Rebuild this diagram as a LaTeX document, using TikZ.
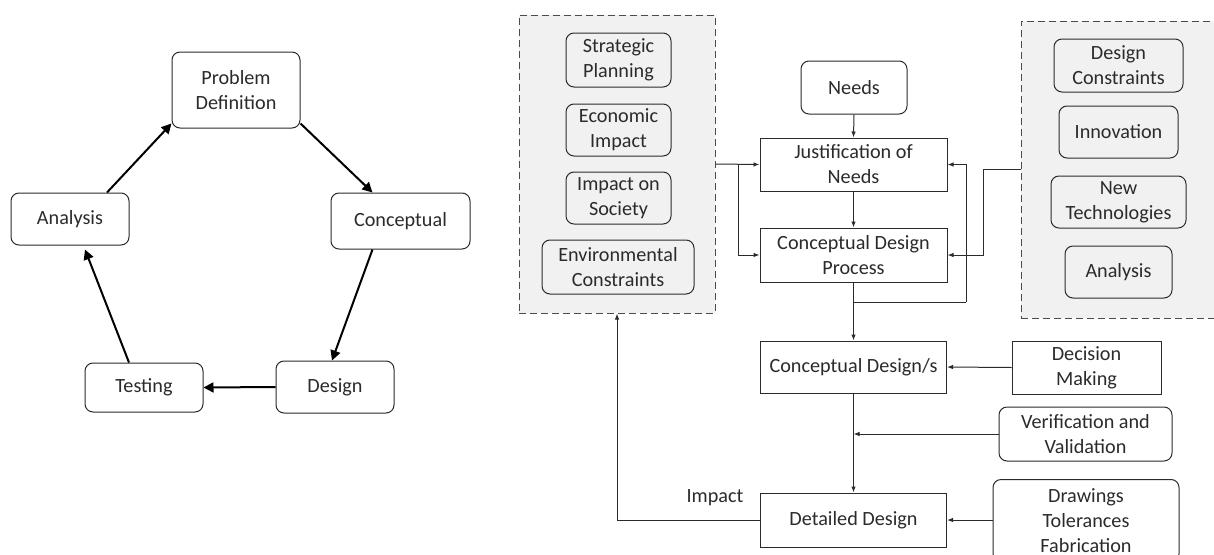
\documentclass[tikz,border=0pt]{standalone}
\usepackage{fontspec}
\setmainfont{Carlito}
\usetikzlibrary{arrows.meta,calc}
\definecolor{ink}{HTML}{2B2B2B}
\definecolor{panel}{HTML}{F1F1F1}
\begin{document}
\begin{tikzpicture}[x=1pt,y=-1pt,
  every node/.style={font=\fontsize{20.2}{25}\selectfont, text=ink, align=center, inner sep=0pt},
  cyc/.style={draw=ink, line width=1pt, rounded corners=8pt},
  rbx/.style={draw=ink, line width=1pt, rounded corners=8pt},
  sbx/.style={draw=ink, line width=1pt},
  panelbox/.style={draw=ink!85, dashed, dash pattern=on 7pt off 4pt, line width=1pt, fill=panel},
  bigarr/.style={draw=black, line width=2pt, -{Triangle[length=10pt,width=10pt]}},
  arr/.style={draw=ink, line width=1pt, -{Latex[length=6pt,width=4.5pt]}},
  ln/.style={draw=ink, line width=1pt}
]
\useasboundingbox (0,0) rectangle (1214,554);
\clip (0,0) rectangle (1214,554);
\fill[white] (0,0) rectangle (1214,554);

% ---------- left cycle ----------
\node[cyc, minimum width=128pt, minimum height=76pt] (pd) at (236,90) {Problem\\Definition};
\node[cyc, minimum width=139pt, minimum height=56pt] (conc) at (400.5,221) {Conceptual};
\node[cyc, minimum width=118pt, minimum height=52pt] (ana) at (70,219) {Analysis};
\node[cyc, minimum width=118pt, minimum height=49pt] (test) at (144,387.5) {Testing};
\node[cyc, minimum width=118pt, minimum height=52pt] (des) at (335,387) {Design};

\draw[bigarr] ([xshift=37pt]ana.north) -- ([yshift=5pt]pd.south west);
\draw[bigarr] ([yshift=5pt]pd.south east) -- ([xshift=-28pt]conc.north);
\draw[bigarr] ([xshift=-28pt]conc.south) -- ([xshift=-3pt]des.north);
\draw[bigarr] (des.west) -- (test.east);
\draw[bigarr] ([xshift=-15pt]test.north) -- ([xshift=15pt,yshift=-4pt]ana.south);

% ---------- right diagram ----------
\node[panelbox, minimum width=196pt, minimum height=298pt] (lbox) at (617,164) {};
\node[rbx, minimum width=105pt, minimum height=54pt] (sp) at (618.5,60) {Strategic\\Planning};
\node[rbx, minimum width=105pt, minimum height=52pt] (ei) at (618.5,130) {Economic\\Impact};
\node[rbx, minimum width=105pt, minimum height=52pt] (ios) at (618.5,198) {Impact on\\Society};
\node[rbx, minimum width=152pt, minimum height=54pt] (ec) at (618,267) {Environmental\\Constraints};

\node[panelbox, minimum width=210pt, minimum height=297pt] (rbox) at (1126,169.5) {};
\node[rbx, minimum width=129pt, minimum height=53pt] (dc) at (1118.5,65.5) {Design\\Constraints};
\node[rbx, minimum width=119pt, minimum height=52pt] (inn) at (1118.5,132) {Innovation};
\node[rbx, minimum width=135pt, minimum height=52pt] (nt) at (1118.5,202) {New\\Technologies};
\node[rbx, minimum width=107pt, minimum height=52pt] (an2) at (1118.5,272) {Analysis};

\node[rbx, minimum width=106pt, minimum height=53pt] (needs) at (854,87.5) {Needs};
\node[sbx, minimum width=187pt, minimum height=53pt] (jon) at (853.5,164.5) {Justification of\\Needs};
\node[sbx, minimum width=187pt, minimum height=54pt] (cdp) at (853.5,255) {Conceptual Design\\Process};
\node[sbx, minimum width=186pt, minimum height=52pt] (cds) at (853.5,367) {Conceptual Design/s};
\node[sbx, minimum width=149pt, minimum height=53pt] (dm) at (1086.5,367.5) {Decision\\Making};
\node[rbx, minimum width=173pt, minimum height=54pt] (vv) at (1085.5,434) {Verification and\\Validation};
\node[sbx, minimum width=186pt, minimum height=54pt] (ddes) at (853.5,520) {Detailed Design};
\node[rbx, minimum width=186pt, minimum height=82pt] (dtf) at (1086,520.5) {Drawings\\Tolerances\\Fabrication};
\node (imp) at (715,498) {Impact};

\coordinate (bl) at (738,164);
\coordinate (rb) at (983,169.5);
\coordinate (fb) at (966,302);

\draw[arr] (needs.south) -- (jon.north);
\draw[arr] (jon.south) -- (cdp.north);
\draw[arr] (lbox.east) -- (jon.west);
\draw[arr] (bl) |- (cdp.west);
\draw[ln] (rbox.west) -- (rb);
\draw[arr] (rb) |- (cdp.east);
\draw[ln] (cdp.south) |- (fb);
\draw[arr] (fb) |- (jon.east);
\draw[arr] (cdp.south) -- (cds.north);
\draw[arr] (dm.west) -- (cds.east);
\draw[arr] (cds.south) -- (ddes.north);
\draw[arr] (vv.west) -- (vv.west -| cds.south);
\draw[arr] (dtf.west |- ddes.east) -- (ddes.east);
\draw[arr] (ddes.west) -| (lbox.south);
\end{tikzpicture}
\end{document}
